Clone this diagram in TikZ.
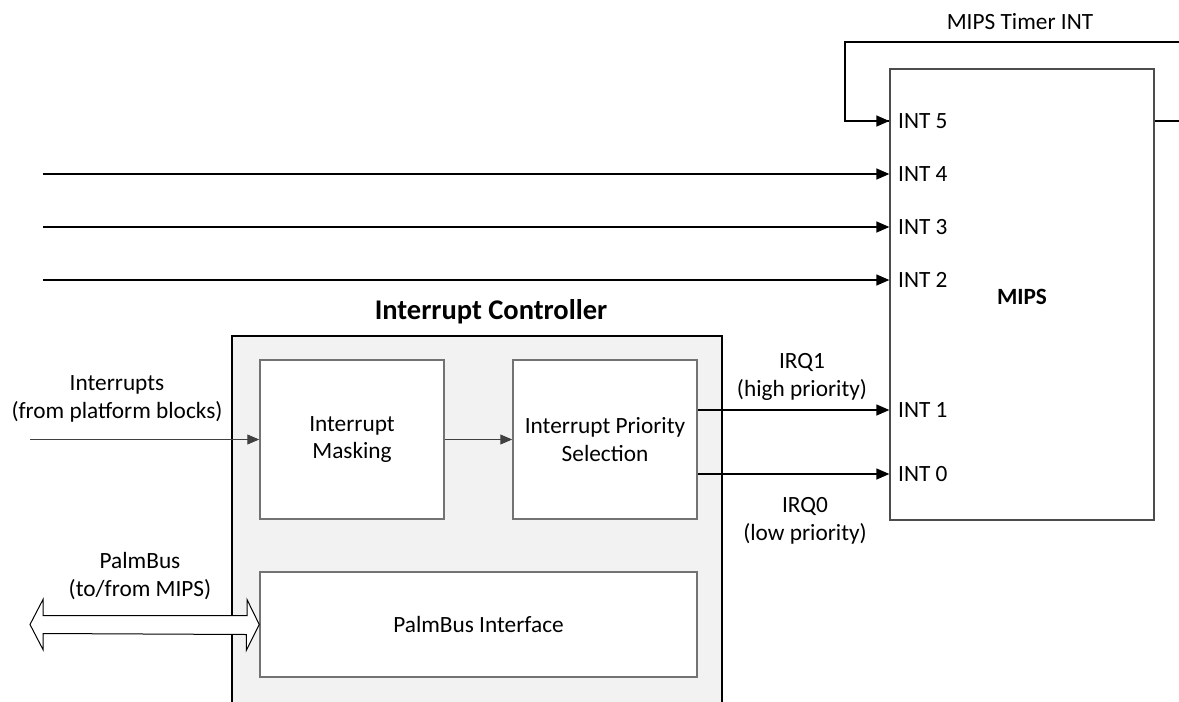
\documentclass[tikz,border=0pt]{standalone}
\usepackage{fontspec}
\setmainfont{Carlito}
\usepackage{tikz}
\usetikzlibrary{arrows.meta}

\begin{document}
\begin{tikzpicture}[x=1pt, y=-1pt,
        every node/.style={font=\fontsize{23.3}{27.5}\selectfont, inner sep=0pt},
        wire/.style={line width=1.3pt, draw=black},
        sig/.style={wire, -{Triangle[length=13pt, width=11pt]}},
        thin sig/.style={line width=1pt, draw=black!75, -{Triangle[length=12pt, width=10pt]}},
        block/.style={draw=black!55, line width=1.5pt, fill=white, rectangle},
        pin/.style={anchor=west}]
        \useasboundingbox (0, 0) rectangle (1179, 702);

        % MIPS core
        \node[draw=black!70, line width=1.3pt, minimum width=264pt, minimum height=451pt] (mips) at (1022, 294.5) {};
        \node[font=\fontsize{23.3}{27.5}\selectfont\bfseries] (mipslbl) at (1022, 297) {MIPS};
        \node[pin] (int5) at (898, 121) {INT 5};
        \node[pin] (int4) at (898, 174) {INT 4};
        \node[pin] (int3) at (898, 227) {INT 3};
        \node[pin] (int2) at (898, 280) {INT 2};
        \node[pin] (int1) at (898, 410) {INT 1};
        \node[pin] (int0) at (898, 474) {INT 0};

        % timer loop
        \node (tmrlbl) at (1020, 22) {MIPS Timer INT};
        \coordinate (tmr) at (845, 42);
        \draw[wire] (mips.east |- int5) -- (1195, 121) |- (tmr) |- (mips.west |- int5);
        \draw[sig] (tmr |- int5) -- (mips.west |- int5);

        % external lines
        \coordinate (src4) at (43, 174);
        \coordinate (src3) at (43, 227);
        \coordinate (src2) at (43, 280);
        \draw[sig] (src4) -- (mips.west |- int4);
        \draw[sig] (src3) -- (mips.west |- int3);
        \draw[sig] (src2) -- (mips.west |- int2);

        % interrupt controller
        \node[draw=black, line width=1.5pt, fill=black!5, minimum width=490pt, minimum height=384pt] (ctrl) at (477, 528) {};
        \node[font=\fontsize{28.5}{32}\selectfont\bfseries] (ctrllbl) at (491, 312) {Interrupt Controller};
        \node[block, minimum width=184pt, minimum height=159pt, align=center] (mask) at (352, 439.5) {Interrupt\\Masking};
        \node[block, minimum width=184pt, minimum height=159pt, align=center] (prio) at (605, 439.5) {Interrupt Priority\\Selection};
        \node[block, minimum width=437pt, minimum height=105pt] (palm) at (478.5, 624.5) {PalmBus Interface};

        \draw[thin sig] (mask) -- (prio);
        \coordinate (irqin) at (30, 439.5);
        \draw[thin sig] (irqin) -- (mask);
        \node[align=center] (irqlbl) at (117, 399) {Interrupts\\(from platform blocks)};

        \draw[sig] (prio.east |- int1) -- (mips.west |- int1);
        \draw[sig] (prio.east |- int0) -- (mips.west |- int0);
        \node[align=center] (irq1lbl) at (802, 377) {IRQ1\\(high priority)};
        \node[align=center] (irq0lbl) at (805, 521) {IRQ0\\(low priority)};

        % palmbus double arrow
        \coordinate (busl) at (30, 624.5);
        \filldraw[line width=1pt, draw=black, fill=white] (busl) -- ++(13, -25) -- ++(0, 16) -- (247, 615.5)
            -- ++(0, -16) -- (palm.west) -- ++(-13, 26) -- ++(0, -16) -- (43, 633.5) -- ++(0, 16) -- cycle;
        \node[align=center] (buslbl) at (140, 576) {PalmBus\\(to/from MIPS)};
    \end{tikzpicture}
\end{document}
